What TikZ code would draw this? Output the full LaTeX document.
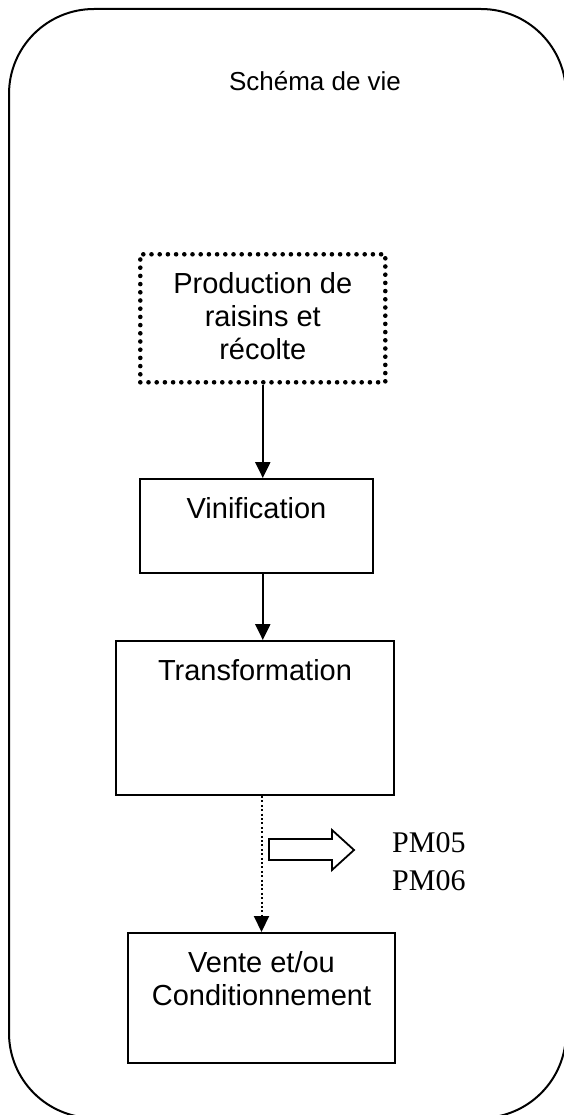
\documentclass[tikz,border=0pt]{standalone}
\usepackage{fontspec}
\setmainfont{Liberation Sans}
\newfontfamily\pmfont{Liberation Serif}
\usetikzlibrary{arrows.meta}

% text of a stage box: fixed size, first baseline 39pt below the top
\newcommand{\stagetext}[3]{\parbox[t][#2][t]{#1}{\centering\rule{0pt}{39pt}#3}}

\tikzset{
  stage/.style={draw, line width=2pt, inner sep=0pt, anchor=north west,
    font=\fontsize{29}{33}\selectfont},
  dotstage/.style={stage, line width=4.6pt, line cap=round, dash pattern=on 0pt off 8.2pt},
  flow/.style={-{Triangle[length=16pt,width=15pt]}, line width=2.2pt},
  dotflow/.style={-{Triangle[length=16pt,width=15pt]}, line width=2pt, dash pattern=on 2pt off 2.4pt},
}

\begin{document}
\begin{tikzpicture}[x=1pt,y=-1pt]
    \useasboundingbox (0,0) rectangle (563,1115);
    \draw[line width=2pt, rounded corners=85pt] (9,9) rectangle (566,1118);

    \node (title) at (315,81) {\fontsize{26}{30}\selectfont Schéma de vie};

    \node[dotstage] (prod) at (138,252) {\stagetext{245pt}{128pt}{Production de\\ raisins et\\ récolte}};
    \node[stage] (vin) at (139,478) {\stagetext{233pt}{94pt}{Vinification}};
    \node[stage] (trans) at (115,640) {\stagetext{278pt}{154pt}{Transformation}};
    \node[stage] (vente) at (127,932) {\stagetext{267pt}{130pt}{Vente et/ou\\ Conditionnement}};

    \draw[flow] (prod.south) -- (prod.south |- vin.north);
    \draw[flow] (prod.south |- vin.south) -- (prod.south |- trans.north);
    \draw[dotflow] (vente.north |- trans.south) -- (vente.north);

    % hollow arrow towards the products
    \draw[line width=1.8pt, line join=miter] (269,839) -- (332,839) -- (332,830) -- (354,850)
        -- (332,870) -- (332,860) -- (269,860) -- cycle;
    \node[anchor=north west, inner sep=0pt, align=left, font=\pmfont\fontsize{30}{38}\selectfont]
        (pm) at (392,832) {PM05\\PM06};
\end{tikzpicture}
\end{document}
